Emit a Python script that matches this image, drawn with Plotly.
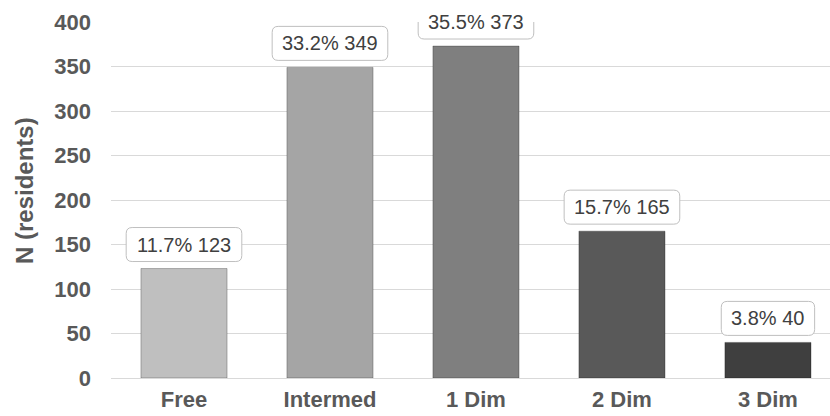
import plotly.graph_objects as go

# Residents per category and their share of the total
categories = ["Free", "Intermed", "1 Dim", "2 Dim", "3 Dim"]
counts = [123, 349, 373, 165, 40]
percents = [11.7, 33.2, 35.5, 15.7, 3.8]
bar_colors = ["#bfbfbf", "#a5a5a5", "#7f7f7f", "#595959", "#3f3f3f"]
y_ticks = [0, 50, 100, 150, 200, 250, 300, 350, 400]

FONT = "Liberation Sans, Arial, sans-serif"
LABEL_SIZE = 20
GAP = 7          # px between bar top and label box
BOX_H = 34       # px label box height
RADIUS = 6

# approximate Arial advance widths (em) for label sizing
CHAR_W = {".": 0.278, "%": 0.889, " ": 0.278}


def text_width(s, size):
    return sum(CHAR_W.get(c, 0.556) for c in s) * size


def rounded_rect(w, y0, h, r):
    x0, x1 = -w / 2, w / 2
    y1 = y0 + h
    return (
        f"M {x0 + r},{y0} L {x1 - r},{y0} Q {x1},{y0} {x1},{y0 + r} "
        f"L {x1},{y1 - r} Q {x1},{y1} {x1 - r},{y1} "
        f"L {x0 + r},{y1} Q {x0},{y1} {x0},{y1 - r} "
        f"L {x0},{y0 + r} Q {x0},{y0} {x0 + r},{y0} Z"
    )


fig = go.Figure(
    go.Bar(
        x=categories,
        y=counts,
        marker=dict(color=bar_colors, line=dict(color="rgba(0,0,0,0.25)", width=1)),
        width=0.59,
        hoverinfo="skip",
    )
)

shapes = []
annotations = []
for i, (cat, n, p) in enumerate(zip(categories, counts, percents)):
    label = f"{p}% {n}"
    w = text_width(label, LABEL_SIZE) + 20
    shapes.append(
        dict(
            type="path",
            xref="x", yref="y",
            xsizemode="pixel", ysizemode="pixel",
            xanchor=i, yanchor=n,
            path=rounded_rect(w, GAP, BOX_H, RADIUS),
            fillcolor="white",
            line=dict(color="#bfbfbf", width=1),
            layer="above",
        )
    )
    annotations.append(
        dict(
            x=cat, y=n, xref="x", yref="y",
            text=label, showarrow=False,
            yanchor="middle", yshift=GAP + BOX_H / 2,
            font=dict(family=FONT, size=LABEL_SIZE, color="#404040"),
        )
    )

# Rotated y-axis title, placed in paper coordinates left of the plot area
annotations.append(
    dict(
        x=-(111 - 24) / 719, y=(378 - 191) / 356, xref="paper", yref="paper",
        xanchor="center", yanchor="middle",
        text="N (residents)", showarrow=False, textangle=-90,
        font=dict(family=FONT, size=24, color="#595959", weight="bold"),
    )
)

fig.update_layout(
    width=830, height=416,
    margin=dict(l=111, r=0, t=22, b=38),
    paper_bgcolor="white", plot_bgcolor="white",
    showlegend=False,
    shapes=shapes,
    annotations=annotations,
    font=dict(family=FONT, color="#595959"),
)

fig.update_xaxes(
    range=[-0.5, 4.425],
    showgrid=False, showline=False, zeroline=False,
    tickfont=dict(family=FONT, size=22, color="#595959", weight="bold"),
    ticklabelstandoff=6,
)
fig.update_yaxes(
    range=[0, 400],
    tickvals=y_ticks,
    showgrid=True, gridcolor="#d9d9d9", gridwidth=1,
    zeroline=True, zerolinecolor="#d9d9d9", zerolinewidth=1,
    showline=False,
    tickfont=dict(family=FONT, size=22, color="#595959", weight="bold"),
    ticklabelstandoff=19,
)

fig.write_html("out.html")
